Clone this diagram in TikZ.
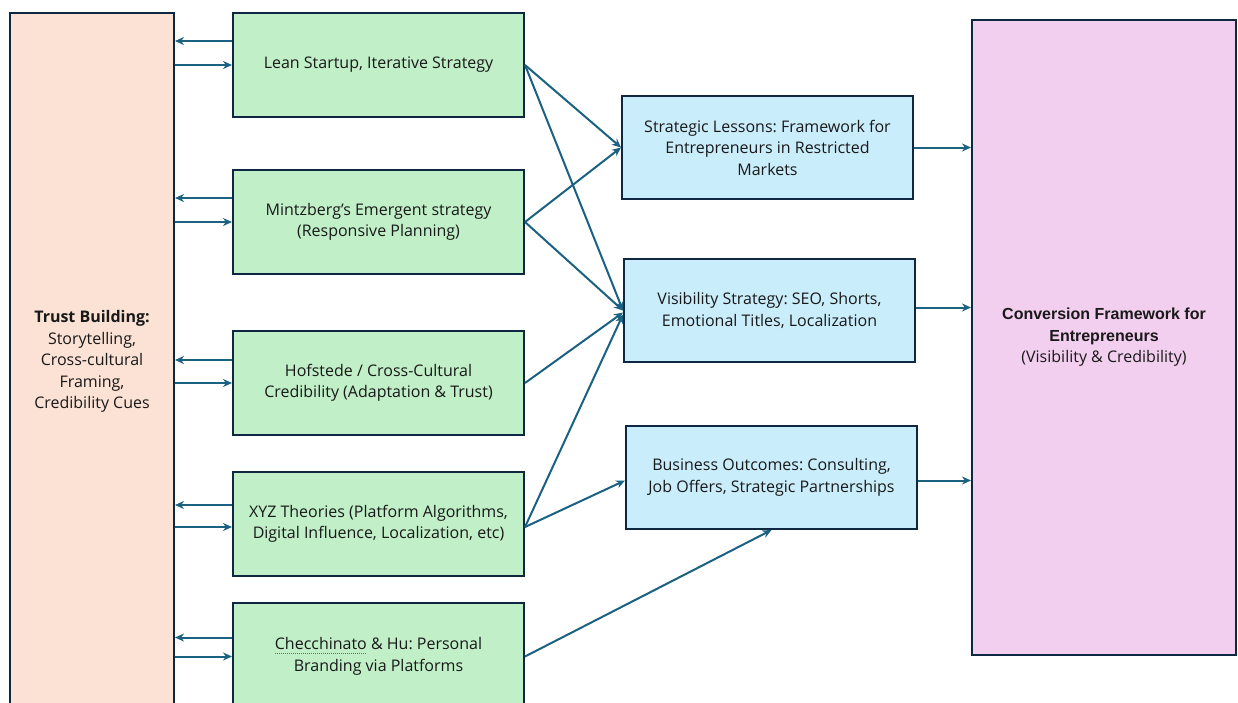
\documentclass[tikz,border=0pt]{standalone}
\usepackage{fontspec}
\setmainfont{Open Sans}
\newfontfamily\arialf{Liberation Sans}
\usetikzlibrary{calc,arrows.meta}
\frenchspacing
\definecolor{edge}{HTML}{0E2841}
\definecolor{arrc}{HTML}{1A6182}
\definecolor{gfill}{HTML}{C1F0C8}
\definecolor{bfill}{HTML}{CAEDFB}
\definecolor{pfill}{HTML}{F2CEEF}
\definecolor{ofill}{HTML}{FBE2D5}
\definecolor{spellred}{HTML}{D04040}
\newcommand\spellu[1]{\setbox0\hbox{#1}\rlap{\raisebox{-3.5pt}{\color{spellred}\hbox to \wd0{\xleaders\hbox to 2pt{\vrule height 0.6pt width 1.2pt\hss}\hfil}}}#1}
\tikzset{
  box/.style={draw=edge, line width=2pt, rectangle, inner sep=0pt, align=center,
    font=\fontsize{16}{21.5}\selectfont\frenchspacing, text=black!90},
  gbox/.style={box, fill=gfill, minimum width=291pt, minimum height=104pt},
  bbox/.style={box, fill=bfill, minimum width=291pt, minimum height=103pt},
  arr/.style={draw=arrc, line width=2pt, -{Stealth[length=9pt,width=8pt]}},
}
\begin{document}
\begin{tikzpicture}[x=1pt,y=-1pt]
\useasboundingbox (0,0) rectangle (1238,702);
\clip (0,0) rectangle (1238,702);
\fill[white] (0,0) rectangle (1238,702);
% left box
\node[box, fill=ofill, minimum width=164pt, minimum height=697pt] (lb) at (92,361.5)
  {\textbf{Trust Building:}\\Storytelling,\\Cross-cultural\\Framing,\\Credibility Cues};
% green boxes
\node[gbox] (g1) at (378.5,65) {Lean Startup, Iterative Strategy};
\node[gbox] (g2) at (378.5,222) {Mintzberg’s Emergent strategy\\(Responsive Planning)};
\node[gbox] (g3) at (378.5,383) {Hofstede / Cross-Cultural\\Credibility (Adaptation \& Trust)};
\node[gbox] (g4) at (378.5,524) {XYZ Theories (Platform Algorithms,\\Digital Influence, Localization, etc)};
\node[gbox, minimum height=107pt] (g5) at (378.5,656.5) {\spellu{Checchinato} \& Hu: Personal\\Branding via Platforms};
% blue boxes
\node[bbox] (b1) at (767.5,147.5) {Strategic Lessons: Framework for\\Entrepreneurs in Restricted\\Markets};
\node[bbox] (b2) at (769.5,310.5) {Visibility Strategy: SEO, Shorts,\\Emotional Titles, Localization};
\node[bbox] (b3) at (771.5,477.5) {Business Outcomes: Consulting,\\Job Offers, Strategic Partnerships};
% pink box
\node[box, fill=pfill, minimum width=264pt, minimum height=635pt] (pk) at (1104,337.5)
  {\arialf\bfseries Conversion Framework for\\\arialf\bfseries Entrepreneurs\\\mdseries\rmfamily (Visibility \& Credibility)};
% left <-> green arrows
\foreach \g/\d/\u in {g1/-24/0, g2/-24/0, g3/-23/0, g4/-19/3, g5/-19/0}{
  \draw[arr] ($(\g.west)+(0,\d)$) coordinate (t) -- (t -| lb.east);
  \draw[arr] ($(lb.east |- \g.west)+(0,\u)$) coordinate (s) -- (s -| \g.west);
}
% green -> blue
\draw[arr] (g1.east) -- (b1.west);
\draw[arr] (g1.east) -- (b2.west);
\draw[arr] (g2.east) -- (b1.west);
\draw[arr] (g2.east) -- (b2.west);
\draw[arr] (g3.east) -- ($(b2.west)+(0,2)$);
\draw[arr] ($(g4.east)+(0,3)$) -- ($(b2.west)+(0,4)$);
\draw[arr] ($(g4.east)+(0,3)$) -- ($(b3.west)+(0,3)$);
\draw[arr] (g5.east) -- (b3.south);
% blue -> pink
\draw[arr] (b1.east) -- (b1.east -| pk.west);
\draw[arr] ($(b2.east)+(0,-3)$) coordinate (q) -- (q -| pk.west);
\draw[arr] ($(b3.east)+(0,3)$) coordinate (r) -- (r -| pk.west);
\end{tikzpicture}
\end{document}
